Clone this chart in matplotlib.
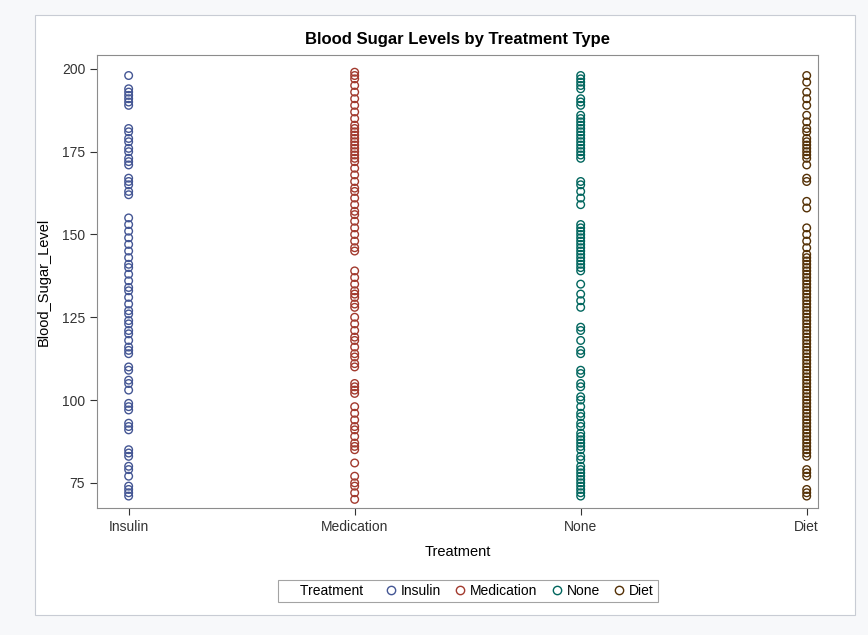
import matplotlib.pyplot as plt
from matplotlib.lines import Line2D
from matplotlib.patches import Rectangle

categories = ["Insulin", "Medication", "None", "Diet"]
colors = ["#445694", "#A23A2E", "#01665E", "#543005"]

insulin = [198, 194, 193, 192, 191, 190, 189, 182, 181, 179, 178, 176, 175, 173, 172, 171,
           167, 166, 165, 163, 162, 155, 153, 151, 149, 147, 145, 143, 141, 140, 138, 136,
           134, 133, 131, 129, 127, 126, 124, 123, 121, 120, 118, 116, 115, 114, 110, 109,
           106, 105, 103, 99, 98, 97, 93, 92, 91, 85, 84, 83, 80, 79, 77, 74, 73, 72, 71]
medication = [199, 198, 197, 195, 193, 191, 189, 187, 185, 183, 182, 181, 180, 179, 178, 177,
              176, 175, 174, 173, 172, 170, 168, 166, 164, 163, 161, 159, 157, 156, 154, 152,
              150, 148, 146, 145, 139, 137, 135, 133, 132, 131, 129, 128, 125, 123, 121, 119,
              118, 116, 114, 113, 111, 110, 105, 104, 103, 102, 98, 96, 94, 92, 91, 89, 87,
              86, 85, 81, 77, 75, 74, 72, 70]
none = [198, 197, 196, 195, 194, 191, 190, 189, 186, 185, 184, 183, 182, 181, 180, 179, 178,
        177, 176, 175, 174, 173, 166, 165, 163, 161, 159, 153, 152, 151, 150, 149, 148, 147,
        146, 145, 144, 143, 142, 141, 140, 139, 135, 132, 130, 128, 122, 121, 118, 115, 114,
        109, 108, 105, 104, 101, 100, 98, 96, 95, 93, 92, 90, 89, 88, 87, 86, 85, 83, 82, 80,
        79, 78, 77, 76, 75, 74, 73, 72, 71]
diet = [198, 196, 193, 191, 189, 186, 184, 182, 181, 179, 178, 177, 176, 175, 174, 173, 171,
        167, 166, 160, 158, 152, 150, 148, 146, 144, 143, 142, 141, 140, 139, 138, 137, 136,
        135, 134, 133, 132, 131, 130, 129, 128, 127, 126, 125, 124, 123, 122, 121, 120, 119,
        118, 117, 116, 115, 114, 113, 112, 111, 110, 109, 108, 107, 106, 105, 104, 103, 102,
        101, 100, 99, 98, 97, 96, 95, 94, 93, 92, 91, 90, 89, 88, 87, 86, 85, 84, 83, 79, 78,
        77, 73, 72, 71]
groups = [insulin, medication, none, diet]

plt.rcParams["font.family"] = ["Liberation Sans", "DejaVu Sans"]

fig = plt.figure(figsize=(8.68, 6.35), dpi=100)
fig.patch.set_facecolor("#F7F8FA")
fig.patches.append(Rectangle((35 / 868, 1 - 615 / 635), 820 / 868, 600 / 635,
                             transform=fig.transFigure, facecolor="white",
                             edgecolor="#C8CCD4", linewidth=0.8, zorder=-10))

ax = fig.add_axes([97 / 868, 1 - 508 / 635, 721 / 868, 453 / 635])
ax.set_zorder(1)
for i, (vals, c) in enumerate(zip(groups, colors)):
    ax.scatter([i] * len(vals), vals, s=30, facecolors="none", edgecolors=c, linewidths=1.0)

ax.set_xlim(-0.14, 3.05)
ax.set_ylim(67.4, 204.2)
ax.set_xticks(range(4))
ax.set_xticklabels(categories)
ax.set_yticks([75, 100, 125, 150, 175, 200])
for s in ax.spines.values():
    s.set_color("#8C8C8C")
ax.tick_params(colors="#333333", labelsize=10, length=5)
ax.set_xlabel("Treatment", fontsize=10.5, labelpad=8)
ax.set_ylabel("Blood_Sugar_Level", fontsize=10.5, labelpad=8)
ax.set_title("Blood Sugar Levels by Treatment Type", fontsize=12, fontweight="bold", pad=8)

# legend title inline, as SAS draws it
handles = [Line2D([], [], linestyle="none", marker=None)]
handles += [Line2D([], [], marker="o", linestyle="none", markerfacecolor="none",
                   markeredgecolor=c, markersize=6) for c in colors]
labels = ["Treatment  "] + categories
leg = fig.legend(handles, labels, loc="center",
                 bbox_to_anchor=(468 / 868, 1 - 591 / 635), ncol=5, fontsize=10,
                 frameon=True, fancybox=False, handletextpad=0.1,
                 columnspacing=0.8, borderpad=0.3, handlelength=1.2)
leg.get_frame().set_edgecolor("#8C8C8C")
leg.get_frame().set_linewidth(0.8)
leg.set_zorder(2)

fig.savefig("out.png", dpi=100, facecolor=fig.get_facecolor())
